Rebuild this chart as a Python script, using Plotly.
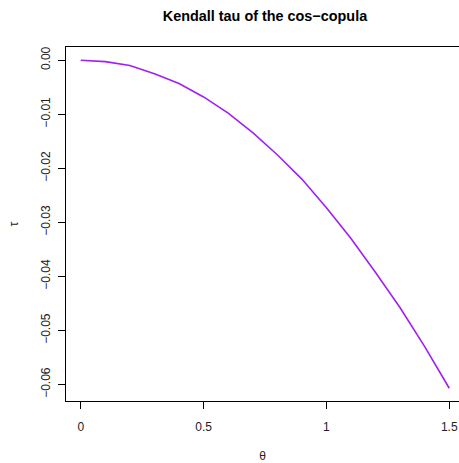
import plotly.graph_objects as go

# Kendall's tau of the cos-copula over the parameter grid
theta = [0.0, 0.1, 0.2, 0.3, 0.4, 0.5, 0.6, 0.7, 0.8, 0.9, 1.0, 1.1, 1.2, 1.3, 1.4, 1.5]
tau = [0.0, -0.00026, -0.00099, -0.0025, -0.0043, -0.0068, -0.0098, -0.0134,
       -0.0175, -0.0220, -0.0273, -0.0330, -0.0393, -0.0458, -0.0530, -0.0607]

x_ticks = [0, 0.5, 1, 1.5]
x_tick_labels = ["0", "0.5", "1", "1.5"]
y_ticks = [0.0, -0.01, -0.02, -0.03, -0.04, -0.05, -0.06]
y_tick_labels = ["0.00", "−0.01", "−0.02", "−0.03", "−0.04", "−0.05", "−0.06"]

font = "Liberation Sans, Arial, Helvetica, sans-serif"

fig = go.Figure(
    go.Scatter(x=theta, y=tau, mode="lines",
               line=dict(color="#A020F0", width=1.6), hoverinfo="skip")
)

fig.update_layout(
    width=459, height=463,
    margin=dict(l=66, t=47, r=0, b=59),
    paper_bgcolor="white", plot_bgcolor="white",
    showlegend=False,
    font=dict(family=font, size=12, color="black"),
    title=dict(text="<b>Kendall tau of the cos−copula</b>",
               x=265 / 459, xanchor="center", xref="container",
               y=1 - 16 / 463, yanchor="middle", yref="container",
               font=dict(family=font, size=14.4, color="black")),
)

fig.update_xaxes(
    range=[-0.06, 1.5396], tickvals=x_ticks, ticktext=x_tick_labels,
    showgrid=False, zeroline=False,
    showline=True, linecolor="black", linewidth=1, mirror=True,
    ticks="outside", ticklen=7, tickcolor="black", tickwidth=1,
    ticklabelstandoff=8,
    tickfont=dict(size=12, color="#222"),
    title=dict(text="θ", font=dict(size=12, color="#222"), standoff=20),
)
fig.update_yaxes(
    range=[-0.06306, 0.00244], tickvals=y_ticks, ticktext=y_tick_labels,
    showgrid=False, zeroline=False,
    showline=True, linecolor="black", linewidth=1, mirror=False,
    ticks="outside", ticklen=7, tickcolor="black", tickwidth=1,
    ticklabelstandoff=3,
    tickangle=-90, tickfont=dict(size=12, color="#222"),
    title=dict(text="τ", font=dict(size=12, color="#222"), standoff=18),
)

fig.write_html("out.html")
